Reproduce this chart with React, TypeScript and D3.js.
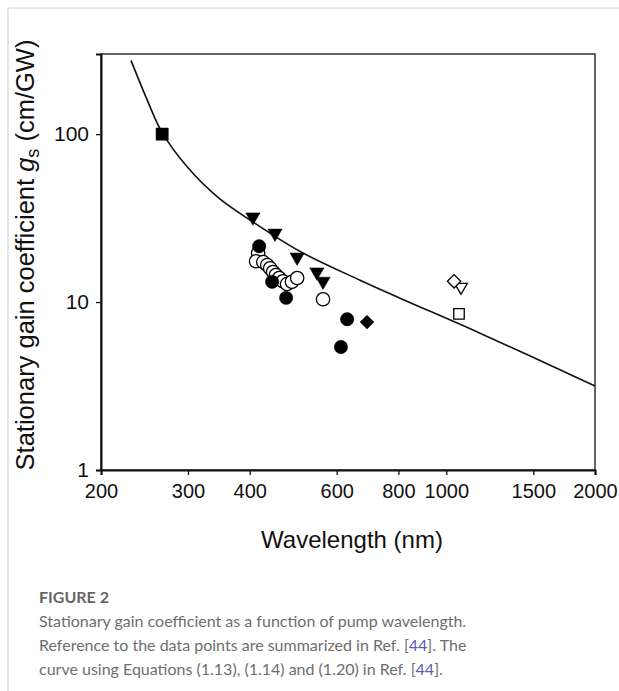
import React, { useEffect, useRef } from "react";
import * as d3 from "d3";

// wavelength (nm) / gain (cm/GW)
const curveWl = [230, 248, 266, 300, 345, 406, 506, 669, 806, 1170, 2000];
const curveG = [275, 160, 102, 63, 42, 30, 20.0, 13.5, 10.55, 6.53, 3.16];

const filledSquareWl = [266];
const filledSquareG = [100];

const filledTriWl = [406, 450, 499, 547, 563];
const filledTriG = [32.1, 25.7, 18.5, 15.1, 13.3];

const filledCircleWl = [418, 444, 474, 630, 612];
const filledCircleG = [21.5, 13.2, 10.6, 7.9, 5.4];

const filledDiamondWl = [691];
const filledDiamondG = [7.6];

const openCircleWl = [416, 412, 426, 434, 440, 446, 452, 459, 467, 476, 487, 499, 563];
const openCircleG = [19.6, 17.5, 17.3, 16.6, 15.9, 15.1, 14.5, 13.9, 13.3, 12.8, 13.2, 13.9, 10.4];

const openDiamondWl = [1037];
const openDiamondG = [13.3];

const openTriWl = [1071];
const openTriG = [12.3];

const openSquareWl = [1061];
const openSquareG = [8.5];

const xTicks = [200, 300, 400, 600, 800, 1000, 1500, 2000];
const yTicks = [1, 10, 100];

const App = () => {
  const svgEl = useRef(null);

  useEffect(() => {
    const svg = d3.select(svgEl.current);
    svg.selectAll("*").remove();

    const left = 101,
      right = 595,
      top = 54,
      bottom = 470;

    const x = d3.scaleLog().domain([200, 2000]).range([left, right]);
    const y = d3.scaleLog().domain([1, 300]).range([bottom, top]);

    // page frame lines
    svg.append("line").attr("x1", 8).attr("x2", 8).attr("y1", 8).attr("y2", 691)
      .attr("stroke", "#d0d0d0").attr("stroke-width", 1);
    svg.append("line").attr("x1", 8).attr("x2", 619).attr("y1", 8).attr("y2", 8)
      .attr("stroke", "#d0d0d0").attr("stroke-width", 1);

    // plot box
    svg.append("rect")
      .attr("x", left).attr("y", top)
      .attr("width", right - left).attr("height", bottom - top)
      .attr("fill", "none").attr("stroke", "#333").attr("stroke-width", 1.5);

    const xAxis = svg.append("g")
      .attr("transform", "translate(0," + bottom + ")")
      .call(d3.axisBottom(x).tickValues(xTicks).tickFormat(d3.format("d")).tickSize(5).tickPadding(9));
    xAxis.select(".domain").attr("stroke", "#111").attr("stroke-width", 2);
    xAxis.selectAll(".tick line").attr("stroke", "#111").attr("stroke-width", 1.3);
    xAxis.selectAll("text").attr("font-family", "Liberation Sans, Arial, sans-serif")
      .attr("font-size", 20).attr("fill", "#111");

    const yAxis = svg.append("g")
      .attr("transform", "translate(" + left + ",0)")
      .call(d3.axisLeft(y).tickValues(yTicks).tickFormat(d3.format("d")).tickSize(5).tickPadding(7));
    yAxis.select(".domain").attr("stroke", "#111").attr("stroke-width", 2);
    yAxis.selectAll(".tick line").attr("stroke", "#111").attr("stroke-width", 1.3);
    yAxis.selectAll("text").attr("font-family", "Liberation Sans, Arial, sans-serif")
      .attr("font-size", 21).attr("fill", "#111");

    // theory curve
    const line = d3.line<number>()
      .x((d, i) => x(curveWl[i]))
      .y((d) => y(d))
      .curve(d3.curveCatmullRom.alpha(0.5));
    svg.append("path").datum(curveG).attr("d", line)
      .attr("fill", "none").attr("stroke", "#111").attr("stroke-width", 1.6);

    const drawSymbols = (wl, g, type, size, filled, rotate) => {
      svg.append("g").selectAll("path")
        .data(g)
        .enter()
        .append("path")
        .attr("d", d3.symbol().type(type).size(size))
        .attr("transform", (d, i) =>
          "translate(" + x(wl[i]) + "," + y(d) + ")" + (rotate ? " rotate(" + rotate + ")" : ""))
        .attr("fill", filled ? "#000" : "#fff")
        .attr("stroke", "#000")
        .attr("stroke-width", filled ? 0.5 : 1.3);
    };

    drawSymbols(openCircleWl, openCircleG, d3.symbolCircle, 140, false, 0);
    drawSymbols(filledCircleWl, filledCircleG, d3.symbolCircle, 140, true, 0);
    drawSymbols(filledSquareWl, filledSquareG, d3.symbolSquare, 150, true, 0);
    drawSymbols(filledTriWl, filledTriG, d3.symbolTriangle, 88, true, 180);
    drawSymbols(filledDiamondWl, filledDiamondG, d3.symbolSquare, 95, true, 45);
    drawSymbols(openTriWl, openTriG, d3.symbolTriangle, 70, false, 180);
    drawSymbols(openDiamondWl, openDiamondG, d3.symbolSquare, 90, false, 45);
    drawSymbols(openSquareWl, openSquareG, d3.symbolSquare, 110, false, 0);

    // axis titles
    svg.append("text")
      .attr("x", 352).attr("y", 548)
      .attr("text-anchor", "middle")
      .attr("font-family", "Liberation Sans, Arial, sans-serif")
      .attr("font-size", 24).attr("fill", "#111")
      .text("Wavelength (nm)");

    const yt = svg.append("text")
      .attr("transform", "translate(34,255) rotate(-90)")
      .attr("text-anchor", "middle")
      .attr("font-family", "Liberation Sans, Arial, sans-serif")
      .attr("font-size", 25.5).attr("fill", "#111");
    yt.append("tspan").text("Stationary gain coefficient ");
    yt.append("tspan").attr("font-style", "italic").text("g");
    yt.append("tspan").attr("font-size", 18).attr("dy", 5).text("s");
    yt.append("tspan").attr("dy", -5).text(" (cm/GW)");

    // caption
    const cap = svg.append("g").attr("font-family", "Lato, 'Open Sans', sans-serif").attr("fill", "#6e6e6e");
    cap.append("text").attr("x", 39).attr("y", 603).attr("font-size", 16)
      .attr("font-weight", "bold").attr("fill", "#666").text("FIGURE 2");
    cap.append("text").attr("x", 39).attr("y", 627).attr("font-size", 16)
      .text("Stationary gain coefficient as a function of pump wavelength.");
    const l2 = cap.append("text").attr("x", 39).attr("y", 651).attr("font-size", 16);
    l2.append("tspan").text("Reference to the data points are summarized in Ref. [");
    l2.append("tspan").attr("fill", "#5a5ab8").text("44");
    l2.append("tspan").text("]. The");
    const l3 = cap.append("text").attr("x", 39).attr("y", 675).attr("font-size", 16);
    l3.append("tspan").text("curve using Equations (1.13), (1.14) and (1.20) in Ref. [");
    l3.append("tspan").attr("fill", "#5a5ab8").text("44");
    l3.append("tspan").text("].");
  }, [svgEl]);

  return (
    <svg
      ref={svgEl}
      width={619}
      height={691}
      style={{ position: "absolute", left: 0, top: 0, background: "#fff" }}
    ></svg>
  );
};

export default App;
